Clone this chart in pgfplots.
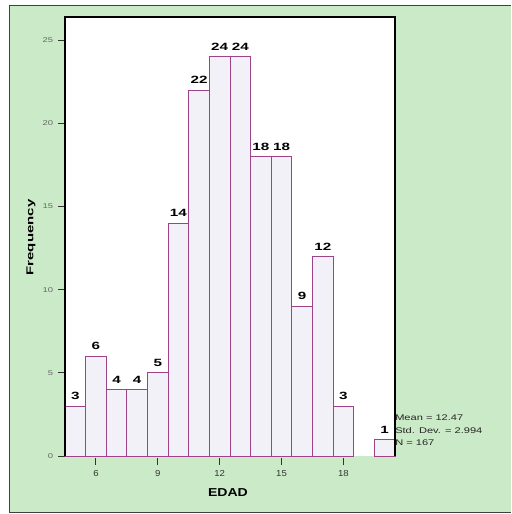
\documentclass[border=0pt]{standalone}
\usepackage{pgfplots}
\pgfplotsset{compat=1.18}
\usepackage{fontspec}
\setmainfont{Liberation Sans}
\definecolor{bggreen}{RGB}{203,235,200}
\definecolor{barfill}{RGB}{243,241,248}
\definecolor{baredge}{RGB}{160,66,136}
\pgfplotstableread{
x y
5 3
6 6
7 4
8 4
9 5
10 14
11 22
12 24
13 24
14 18
15 18
16 9
17 12
18 3
20 1
}\edad
\begin{document}
\begin{tikzpicture}[x=1pt,y=1pt]
\path (0,0) rectangle (511,514);
\fill[bggreen] (9,1) rectangle (511,508);
\draw[black!75,line width=1pt] (511,508) -- (9,508) -- (9,1) -- (511,1);
\begin{axis}[
  at={(65pt,58pt)}, anchor=south west,
  scale only axis, width=330pt, height=439pt,
  xmin=4.5, xmax=20.5, ymin=0, ymax=26.4,
  axis background/.style={fill=white},
  axis line style={draw=none},
  xtick={6,9,12,15,18}, ytick={0,5,10,15,20,25},
  xtick pos=bottom, ytick pos=left,
  tick align=outside,
  major tick length=7pt,
  x tick style={black!80,line width=1pt, yshift=-2pt},
  y tick style={black!80,line width=0.9pt},
  xticklabel style={font=\fontsize{8.7}{10}\selectfont, text=black!80, yshift=-4pt, xscale=1.1},
  yticklabel style={font=\fontsize{7}{8}\selectfont, text=black!60, xscale=1.35},
  /pgf/number format/assume math mode=true,
  clip=false,
]
\addplot[ybar, bar width=1, fill=barfill, draw=baredge, line width=0.9pt,
  nodes near coords, every node near coord/.append style={font=\fontsize{10.5}{12}\selectfont\bfseries, text=black, yshift=2.5pt, xscale=1.45}]
  table[x=x,y=y] {\edad};
\draw[black, line width=1.1pt] (rel axis cs:0,0) -- (rel axis cs:0,1) -- (rel axis cs:1,1) -- (rel axis cs:1,0);
\end{axis}
\node[rotate=90, xscale=1.5, font=\fontsize{10}{12}\selectfont\bfseries] at (31,276.5) {Frequency};
\node[xscale=1.22, font=\fontsize{11.5}{13}\selectfont\bfseries] at (228,21) {EDAD};
\node[anchor=north west, align=left, inner sep=0pt, xscale=1.35, font=\fontsize{8.2}{12.5}\selectfont, text=black!85] at (395,99) {Mean = 12.47\\Std. Dev. = 2.994\\N = 167};
\end{tikzpicture}
\end{document}
